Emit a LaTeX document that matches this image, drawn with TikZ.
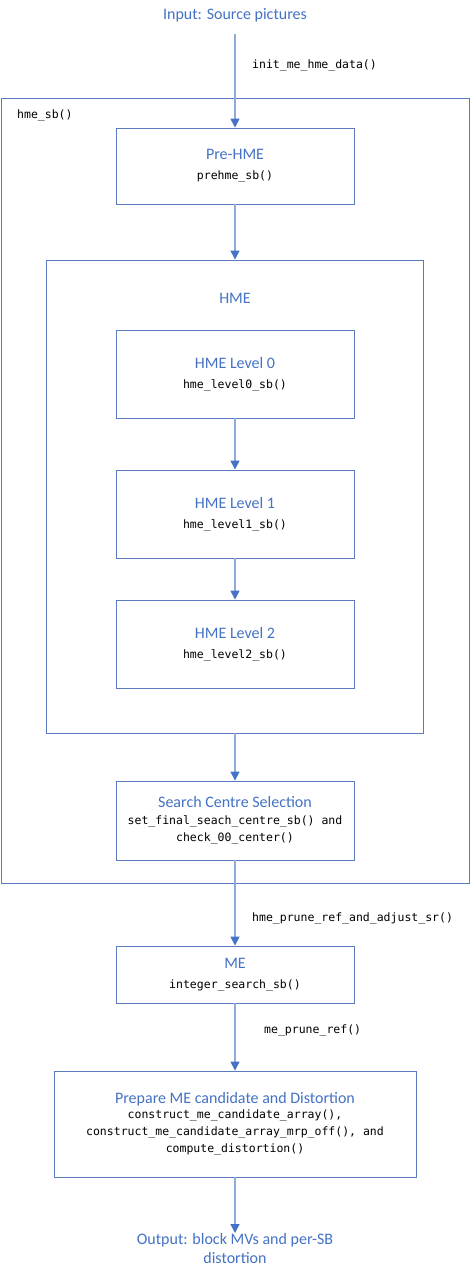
\documentclass[tikz,border=0pt]{standalone}
\usepackage{fontspec}
\setmainfont{Carlito}
\newfontfamily\codefont{DejaVu Sans Mono}
\usetikzlibrary{arrows.meta}
\definecolor{titleblue}{HTML}{4472C4}
\definecolor{boxblue}{HTML}{5B7BBE}
\definecolor{linkblue}{HTML}{8FAADC}
\definecolor{headblue}{HTML}{4472C4}
\newcommand{\tf}{\normalfont\fontsize{16}{19}\selectfont\color{titleblue}}
\newcommand{\cf}{\codefont\fontsize{11.5}{17}\selectfont}
\begin{document}
\begin{tikzpicture}[x=1pt,y=-1pt,
  box/.style={draw=boxblue,line width=0.9pt,fill=white,align=center,inner sep=0pt,font=\cf},
  conn/.style={draw=linkblue,line width=1.4pt,-{Triangle[width=9pt,length=9pt,color=headblue]}},
  codelabel/.style={anchor=west,inner sep=0pt,font=\cf},
  titletext/.style={inner sep=0pt,align=center,font=\tf}]
\useasboundingbox[fill=white] (0,0) rectangle (470,1273);
% containers
\node[box,minimum width=468pt,minimum height=785pt] (hmesb) at (235,490.5) {};
\node[codelabel] (hmesblabel) at (17,115) {hme\_sb()};
\node[titletext,minimum height=38pt] (input) at (235,15) {Input: Source pictures};
\node[box,minimum width=238pt,minimum height=76pt] (prehme) at (235,166) {{\tf Pre-HME}\\[3pt]prehme\_sb()};
\node[box,minimum width=377pt,minimum height=473pt] (hme) at (235,496.5) {};
\node[titletext] (hmetitle) at (235,298) {HME};
\node[box,minimum width=238pt,minimum height=88pt] (lvl0) at (235,374) {{\tf HME Level 0}\\[3pt]hme\_level0\_sb()};
\node[box,minimum width=238pt,minimum height=88pt] (lvl1) at (235,514) {{\tf HME Level 1}\\[3pt]hme\_level1\_sb()};
\node[box,minimum width=238pt,minimum height=88pt] (lvl2) at (235,644) {{\tf HME Level 2}\\[3pt]hme\_level2\_sb()};
\node[box,minimum width=238pt,minimum height=79pt] (scs) at (235,820.5) {{\tf Search Centre Selection}\\[0pt]set\_final\_seach\_centre\_sb() and\\check\_00\_center()};
\node[box,minimum width=238pt,minimum height=57pt] (me) at (235,974.5) {{\tf ME}\\[3pt]integer\_search\_sb()};
\node[box,minimum width=362pt,minimum height=106pt] (prep) at (235,1124) {{\tf Prepare ME candidate and Distortion}\\[-2pt]construct\_me\_candidate\_array(),\\construct\_me\_candidate\_array\_mrp\_off(), and\\compute\_distortion()};
\node[titletext,anchor=north] (output) at (235,1233) {Output: block MVs and per-SB\\distortion};
% labels
\node[codelabel] (l1) at (252,65) {init\_me\_hme\_data()};
\node[codelabel] (l2) at (252,918) {hme\_prune\_ref\_and\_adjust\_sr()};
\node[codelabel] (l3) at (264,1030) {me\_prune\_ref()};
% connectors
\draw[conn] (input.south) -- (prehme.north);
\draw[conn] (prehme.south) -- (hme.north);
\draw[conn] (lvl0.south) -- (lvl1.north);
\draw[conn] (lvl1.south) -- (lvl2.north);
\draw[conn] (hme.south) -- (scs.north);
\draw[conn] (scs.south) -- (me.north);
\draw[conn] (me.south) -- (prep.north);
\draw[conn] (prep.south) -- (output.north);
\end{tikzpicture}
\end{document}
